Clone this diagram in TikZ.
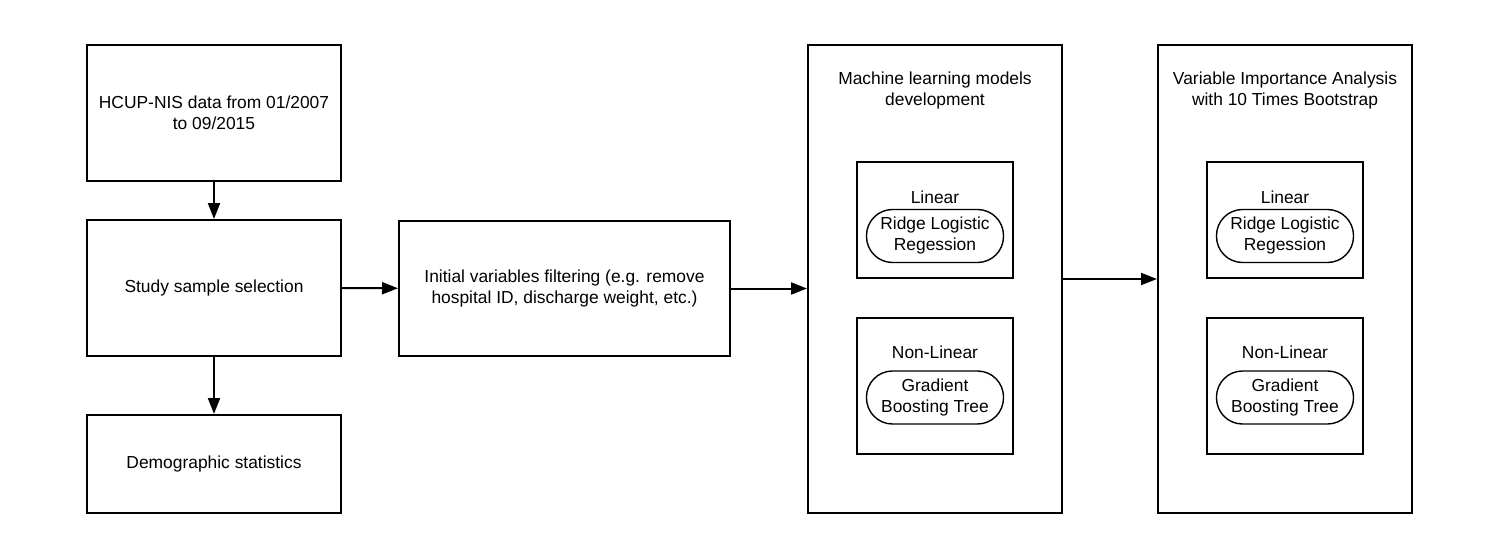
\documentclass[tikz,border=0pt]{standalone}
\usepackage{fontspec}
\setmainfont{Liberation Sans}
\usetikzlibrary{arrows.meta}
\begin{document}
\begin{tikzpicture}[x=0.5pt,y=-0.5pt,
  txt/.style={font=\fontsize{8.7}{10.5}\selectfont, align=center},
  box/.style={draw, line width=1pt, rectangle, inner sep=0pt, txt},
  lbl/.style={inner sep=0pt, txt},
  pill/.style={draw, line width=0.7pt, rounded corners=13pt, inner sep=0pt,
    minimum width=68.5pt, minimum height=26.5pt, txt},
  arr/.style={line width=1pt, -{Triangle[length=8pt,width=6pt]}}
]
\useasboundingbox (0,0) rectangle (1500,556);

% left column
\node[box, minimum width=127pt, minimum height=68pt] (hcup) at (214,113) {HCUP-NIS data from 01/2007\\to 09/2015};
\node[box, minimum width=127pt, minimum height=68pt] (study) at (214,288) {Study sample selection};
\node[box, minimum width=127pt, minimum height=49pt] (demo) at (214,464) {Demographic statistics};

% filtering
\node[box, minimum width=165.5pt, minimum height=67.5pt] (filt) at (564.5,288.5) {Initial variables filtering (e.g. remove\\hospital ID, discharge weight, etc.)};

% ML box
\node[box, minimum width=127pt, minimum height=234pt] (ml) at (935,279) {};
\node[lbl] (mltitle) at (935,91) {Machine learning models\\development};
\node[box, minimum width=78pt, minimum height=58pt] (mllin) at (935,220) {};
\node[lbl] (mllint) at (935,197) {Linear};
\node[pill] (mlridge) at (935,236) {Ridge Logistic\\Regession};
\node[box, minimum width=78pt, minimum height=68pt] (mlnon) at (935,386) {};
\node[lbl] (mlnont) at (935,352) {Non-Linear};
\node[pill] (mlgbt) at (935,397.5) {Gradient\\Boosting Tree};

% VIA box
\node[box, minimum width=127pt, minimum height=234pt] (via) at (1285,279) {};
\node[lbl] (viatitle) at (1285,91) {Variable Importance Analysis\\with 10 Times Bootstrap};
\node[box, minimum width=78pt, minimum height=58pt] (vialin) at (1285,220) {};
\node[lbl] (vialint) at (1285,197) {Linear};
\node[pill] (viaridge) at (1285,236) {Ridge Logistic\\Regession};
\node[box, minimum width=78pt, minimum height=68pt] (vianon) at (1285,386) {};
\node[lbl] (vianont) at (1285,352) {Non-Linear};
\node[pill] (viagbt) at (1285,397.5) {Gradient\\Boosting Tree};

% connectors
\draw[arr] (hcup) -- (study);
\draw[arr] (study) -- (demo);
\draw[arr] (study) -- (filt);
\draw[arr] (filt.east) -- (filt.east -| ml.west);
\draw[arr] (ml) -- (via);
\end{tikzpicture}
\end{document}
